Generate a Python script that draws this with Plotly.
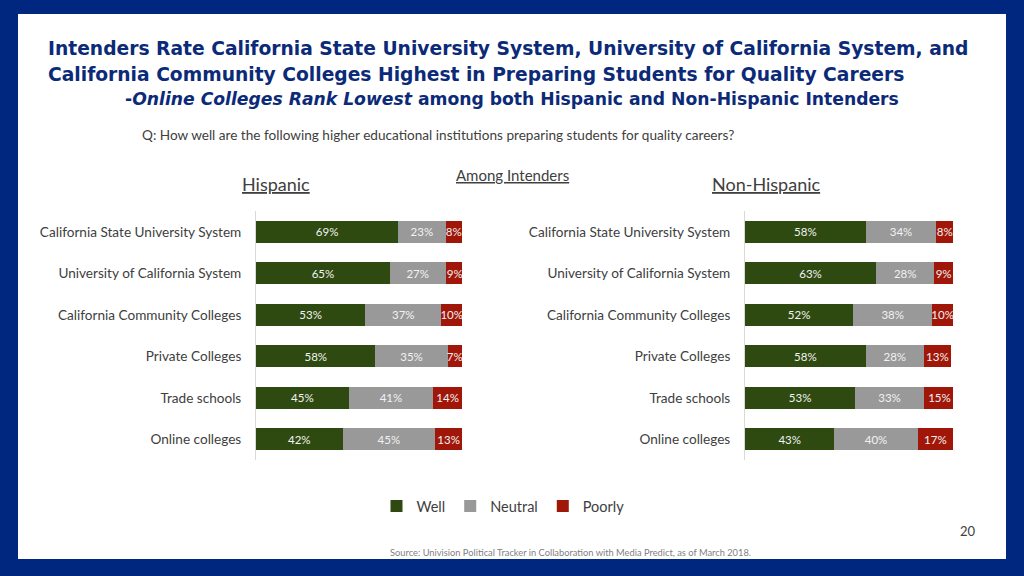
import plotly.graph_objects as go
from plotly.subplots import make_subplots

categories = ["California State University System", "University of California System",
              "California Community Colleges", "Private Colleges", "Trade schools", "Online colleges"]
hisp_well = [69, 65, 53, 58, 45, 42]
hisp_neutral = [23, 27, 37, 35, 41, 45]
hisp_poorly = [8, 9, 10, 7, 14, 13]
nonhisp_well = [58, 63, 52, 58, 53, 43]
nonhisp_neutral = [34, 28, 38, 28, 33, 40]
nonhisp_poorly = [8, 9, 10, 13, 15, 17]
series_names = ["Well", "Neutral", "Poorly"]
colors = ["#2E4A10", "#999999", "#A0170A"]

W, H = 1024, 576
FONT = "Lato"
TFONT = "DejaVu Sans"
GRAY = "#404040"
NAVY = "#0B2A78"

def px(x):
    return x / W

def py(y):
    return 1 - y / H

fig = make_subplots(rows=1, cols=2, horizontal_spacing=0.05)

for col, data in [(1, [hisp_well, hisp_neutral, hisp_poorly]),
                  (2, [nonhisp_well, nonhisp_neutral, nonhisp_poorly])]:
    for name, vals, c in zip(series_names, data, colors):
        fig.add_trace(go.Bar(
            y=categories, x=vals, orientation="h", name=name,
            marker=dict(color=c, line=dict(width=0)),
            text=[f"{v}%" for v in vals], textposition="inside",
            insidetextanchor="middle", textangle=0,
            textfont=dict(family=FONT, size=11.5, color="#F2F2F2"),
            showlegend=(col == 1), hoverinfo="skip", cliponaxis=True,
        ), row=1, col=col)

fig.update_layout(
    width=W, height=H, margin=dict(l=0, r=0, t=0, b=0),
    paper_bgcolor="#00277F", plot_bgcolor="rgba(0,0,0,0)",
    barmode="stack", bargap=0.47,
    uniformtext=dict(minsize=11.5, mode="show"),
    font=dict(family=FONT, color=GRAY),
    legend=dict(orientation="h", x=px(503), xanchor="center", y=py(506), yanchor="middle",
                font=dict(size=14.5, color=GRAY), itemwidth=30, bgcolor="rgba(0,0,0,0)",
                traceorder="normal"),
)

ydom = [py(460), py(211)]
fig.update_xaxes(visible=False, range=[0, 100], fixedrange=True)
fig.update_xaxes(domain=[px(256), px(462)], row=1, col=1)
fig.update_xaxes(domain=[px(745), px(953)], row=1, col=2)
fig.update_yaxes(domain=ydom, autorange="reversed", showline=True, linecolor="#D9D9D9",
                 linewidth=1, showgrid=False, zeroline=False, ticks="", fixedrange=True,
                 ticklabelstandoff=11, tickfont=dict(family=FONT, size=13.6, color=GRAY))

fig.add_shape(type="rect", xref="paper", yref="paper", x0=px(18), x1=px(1006),
              y0=py(559), y1=py(14), fillcolor="white", line=dict(width=0), layer="below")

ann = []
ann.append(dict(x=px(46), y=py(48), text="<b>Intenders Rate California State University System, University of California System, and</b>",
                font=dict(family=TFONT, size=18.7, color=NAVY), xanchor="left"))
ann.append(dict(x=px(46), y=py(74), text="<b>California Community Colleges Highest in Preparing Students for Quality Careers</b>",
                font=dict(family=TFONT, size=18.7, color=NAVY), xanchor="left"))
ann.append(dict(x=px(123), y=py(99), text="<b>-<i>Online Colleges Rank Lowest</i> among both Hispanic and Non-Hispanic Intenders</b>",
                font=dict(family=TFONT, size=17.2, color=NAVY), xanchor="left"))
ann.append(dict(x=px(140), y=py(135), text="Q: How well are the following higher educational institutions preparing students for quality careers?",
                font=dict(size=13.6, color=GRAY), xanchor="left"))
ann.append(dict(x=px(512), y=py(175), text="<u>Among Intenders</u>", font=dict(size=15, color=GRAY), xanchor="center"))
ann.append(dict(x=px(276), y=py(184), text="<u>Hispanic</u>", font=dict(size=18, color=GRAY), xanchor="center"))
ann.append(dict(x=px(766), y=py(184), text="<u>Non-Hispanic</u>", font=dict(size=18, color=GRAY), xanchor="center"))
ann.append(dict(x=px(968), y=py(531), text="20", font=dict(size=13, color=GRAY), xanchor="center"))
ann.append(dict(x=px(570), y=py(552), text="Source: Univision Political Tracker in Collaboration with Media Predict, as of March 2018.",
                font=dict(size=9.3, color="#7F7F7F"), xanchor="center"))
for a in ann:
    a.update(xref="paper", yref="paper", yanchor="middle", showarrow=False)
fig.update_layout(annotations=ann)

fig.write_html("out.html", config={"displayModeBar": False},
               post_script="document.body.style.margin='0';document.body.style.overflow='hidden';")
